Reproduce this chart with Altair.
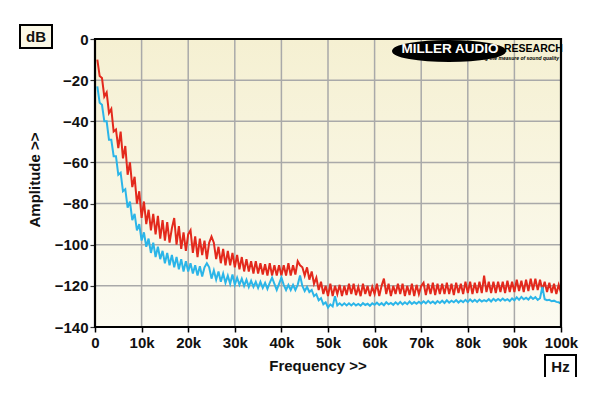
import altair as alt
import pandas as pd

# ---------------- data ----------------
freq_hz = [500 * i for i in range(1, 201)]  # 0.5 kHz .. 100 kHz

red_db = [
    -10, -18, -19, -28, -26, -36, -34, -45, -44, -53,
    -45, -58, -52, -66, -60, -72, -67, -80, -74, -87,
    -79, -90, -83, -93, -85, -95, -86, -97, -88, -98,
    -89, -99, -92, -87, -100, -91, -102, -94, -103, -95,
    -93, -104, -96, -106, -97, -105, -98, -107, -99, -96,
    -99, -107, -101, -109, -102, -110, -103, -110, -104, -111,
    -105, -112, -106, -113, -107, -113, -108, -114, -108, -114,
    -109, -114.5, -109.5, -115, -109, -115, -110, -115, -110, -115,
    -110, -115, -109, -115, -110, -114.5, -108, -110, -111, -115,
    -111, -117, -113, -119, -116, -122, -118, -124, -120, -125,
    -119, -125, -120, -124, -119.5, -125, -120, -124.5, -119, -124,
    -119, -124.5, -120.5, -125, -119, -124, -120, -125, -120.5, -124,
    -119, -125, -120, -116.5, -124, -119, -125, -120, -124, -119,
    -124, -119, -125, -120, -124.5, -119, -125, -119.5, -124, -120,
    -118.5, -124.5, -119, -124, -118.5, -124.5, -119, -124, -119, -124,
    -118.5, -124, -119, -124.5, -118.5, -123.5, -119, -124, -118, -123.5,
    -118, -124, -118.5, -123.5, -118, -123.5, -115, -123, -118, -123.5,
    -118, -123.5, -118, -123, -118, -123.5, -117.5, -123, -118, -123,
    -117, -122.5, -117.5, -123, -117, -122.5, -116.5, -122, -116.5, -122,
    -117, -122, -118, -123, -118.5, -123.5, -119, -124, -119.5, -123.5,
]

blue_db = [
    -23, -31, -32, -40, -40, -49, -49, -57, -57, -66,
    -65, -74, -73, -82, -79, -88, -85, -93, -90, -98,
    -94, -101, -97, -104, -99, -106, -101, -107, -103, -109,
    -104, -110, -105, -111, -106, -112, -107, -113, -108, -113,
    -109, -114, -110, -115, -110.5, -115.5, -111, -109, -111, -116.5,
    -112.5, -117, -113, -118, -114, -118.5, -115, -119, -114.5, -119.5,
    -116, -119.5, -116.5, -120, -117, -120.5, -117.5, -120.5, -118, -121,
    -118, -121, -118.5, -121.5, -118.5, -116, -119, -122, -119, -116,
    -119.5, -122, -119.5, -122, -119.5, -122, -119.5, -115, -120, -122.5,
    -120.5, -123, -122, -125, -124, -127, -126, -129, -128, -130.5,
    -129, -130, -125, -129.5, -128.5, -129.5, -128.5, -129.5, -128.5, -129.5,
    -128.5, -129.5, -128.8, -129.6, -128.4, -129.3, -128.7, -129.7, -128.5, -129.2,
    -128.2, -129.3, -128.4, -129.4, -128, -129, -128.3, -129.2, -128, -129,
    -127.8, -129, -128, -128.9, -127.6, -128.8, -127.9, -128.7, -127.7, -128.6,
    -127.5, -128.5, -127.3, -128.4, -127.6, -128.6, -127.4, -128.3, -127.2, -128.3,
    -127, -128.2, -127.2, -128, -126.9, -128.1, -127.1, -127.9, -126.8, -127.9,
    -126.6, -127.7, -126.8, -127.8, -126.7, -127.6, -126.9, -127.5, -126.5, -127.6,
    -126.3, -127.3, -126.4, -127.2, -126.2, -127.1, -126.5, -127.4, -126.1, -127,
    -125.6, -126.8, -125.4, -126.5, -125.8, -126.7, -125.3, -126.4, -125.5, -126.8,
    -126, -120.5, -126.5, -127, -126.8, -127.5, -127.2, -127.8, -128, -128.6,
]

x_ticks = [0, 10000, 20000, 30000, 40000, 50000, 60000, 70000, 80000, 90000, 100000]
y_ticks = [0, -20, -40, -60, -80, -100, -120, -140]
series_names = ["red", "blue"]
series_colors = ["#e3291c", "#2bb5e8"]

# ---------------- frames ----------------
W, H = 466, 288
FONT = "Liberation Sans"

df = pd.concat([
    pd.DataFrame({"f": freq_hz, "db": red_db, "s": "red", "o": 0}),
    pd.DataFrame({"f": freq_hz, "db": blue_db, "s": "blue", "o": 1}),
])
bg_df = pd.DataFrame({"x": [x_ticks[0]], "x2": [x_ticks[-1]], "y": [y_ticks[-1]], "y2": [y_ticks[0]]})
xg_df = pd.DataFrame({"x": x_ticks[1:-1]})
yg_df = pd.DataFrame({"y": y_ticks[1:-1]})

xs = alt.Scale(domain=[0, 100000], nice=False, zero=False)
ys = alt.Scale(domain=[-140, 0], nice=False, zero=False)

x_axis = alt.Axis(values=x_ticks, labelExpr="datum.value == 0 ? '0' : (datum.value / 1000) + 'k'",
                  title=None, grid=False, domain=False, ticks=True, tickSize=5, tickColor="#000",
                  tickWidth=1.5, labelFont=FONT, labelFontSize=15, labelFontWeight="bold",
                  labelColor="#111", labelPadding=3, labelFlush=False)
y_axis = alt.Axis(values=y_ticks, title=None, grid=False, domain=False, ticks=True, tickSize=5,
                  tickColor="#333", tickWidth=1.2, labelFont=FONT, labelFontSize=15,
                  labelFontWeight="bold", labelColor="#111", labelPadding=2)

grad = alt.Gradient(gradient="linear", x1=0, x2=0, y1=0, y2=1,
                    stops=[alt.GradientStop(color="#f5f0d2", offset=0),
                           alt.GradientStop(color="#fcfbf1", offset=1)])

bg = alt.Chart(bg_df).mark_rect(fill=grad).encode(
    x=alt.X("x:Q", scale=xs, axis=x_axis), x2="x2:Q",
    y=alt.Y("y:Q", scale=ys, axis=y_axis), y2="y2:Q")

xgrid = alt.Chart(xg_df).mark_rule(color="#a9a9a9", strokeWidth=1.5).encode(
    x=alt.X("x:Q", scale=xs), y=alt.value(0), y2=alt.value(H))
ygrid = alt.Chart(yg_df).mark_rule(color="#a9a9a9", strokeWidth=1.5).encode(
    y=alt.Y("y:Q", scale=ys), x=alt.value(0), x2=alt.value(W))

lines = alt.Chart(df).mark_line(strokeWidth=2, clip=True, strokeJoin="miter").encode(
    x=alt.X("f:Q", scale=xs),
    y=alt.Y("db:Q", scale=ys),
    color=alt.Color("s:N", scale=alt.Scale(domain=series_names, range=series_colors), legend=None),
    order="o:Q",
    detail="s:N")

frame = alt.Chart(bg_df).mark_rect(fill=None, stroke="#000", strokeWidth=2.2).encode(
    x=alt.X("x:Q", scale=xs), x2="x2:Q", y=alt.Y("y:Q", scale=ys), y2="y2:Q")

one = pd.DataFrame({"a": [0]})

# unit boxes
db_box = alt.Chart(one).mark_rect(fill="#fbf8e6", stroke="#000", strokeWidth=2).encode(
    x=alt.value(-75), x2=alt.value(-43), y=alt.value(-14), y2=alt.value(9))
db_txt = alt.Chart(one).mark_text(text="dB", font=FONT, fontSize=15, fontWeight="bold",
                                  color="#111", align="center", baseline="middle").encode(
    x=alt.value(-59), y=alt.value(-2))
hz_box = alt.Chart(one).mark_rect(fill="#ffffff", stroke="#000", strokeWidth=2).encode(
    x=alt.value(450), x2=alt.value(481), y=alt.value(316), y2=alt.value(339))
hz_txt = alt.Chart(one).mark_text(text="Hz", font=FONT, fontSize=15, fontWeight="bold",
                                  color="#111", align="center", baseline="middle").encode(
    x=alt.value(465.5), y=alt.value(328))

# axis titles
ytitle = alt.Chart(one).mark_text(text="Amplitude >>", font=FONT, fontSize=15, fontWeight="bold",
                                  color="#111", angle=270, align="center", baseline="middle").encode(
    x=alt.value(-60), y=alt.value(141))
xtitle = alt.Chart(one).mark_text(text="Frequency >>", font=FONT, fontSize=15, fontWeight="bold",
                                  color="#111", align="center", baseline="middle").encode(
    x=alt.value(223), y=alt.value(327))

# logo
ellipse = alt.Chart(one).mark_point(
    shape="M -1 0 A 1 0.18 0 1 0 1 0 A 1 0.18 0 1 0 -1 0 Z",
    filled=True, fill="#000", stroke="#000", opacity=1).encode(
    x=alt.value(354), y=alt.value(12), size=alt.value(12544))
logo1 = alt.Chart(one).mark_text(text="MILLER AUDIO", font=FONT, fontSize=13.5, fontWeight="bold",
                                 color="#fff", align="center", baseline="middle").encode(
    x=alt.value(355), y=alt.value(10))
logo2 = alt.Chart(one).mark_text(text="RESEARCH", font=FONT, fontSize=10.5, fontWeight="bold",
                                 color="#000", align="left", baseline="middle").encode(
    x=alt.value(409), y=alt.value(9.5))
logo3 = alt.Chart(one).mark_text(text="Getting the measure of sound quality", font=FONT,
                                 fontSize=5, fontWeight="bold", fontStyle="italic",
                                 color="#000", align="right", baseline="middle").encode(
    x=alt.value(464), y=alt.value(18.5))

chart = alt.layer(
    bg, xgrid, ygrid, lines, frame, ellipse, logo1, logo2, logo3,
    db_box, db_txt, hz_box, hz_txt, ytitle, xtitle
).properties(
    width=W, height=H,
    autosize=alt.AutoSizeParams(type="none"),
    padding={"left": 87, "top": 31, "right": 30, "bottom": 50},
    background="#ffffff",
).configure_view(stroke=None)

chart.save("out.html", embed_options={"renderer": "svg", "actions": False})
